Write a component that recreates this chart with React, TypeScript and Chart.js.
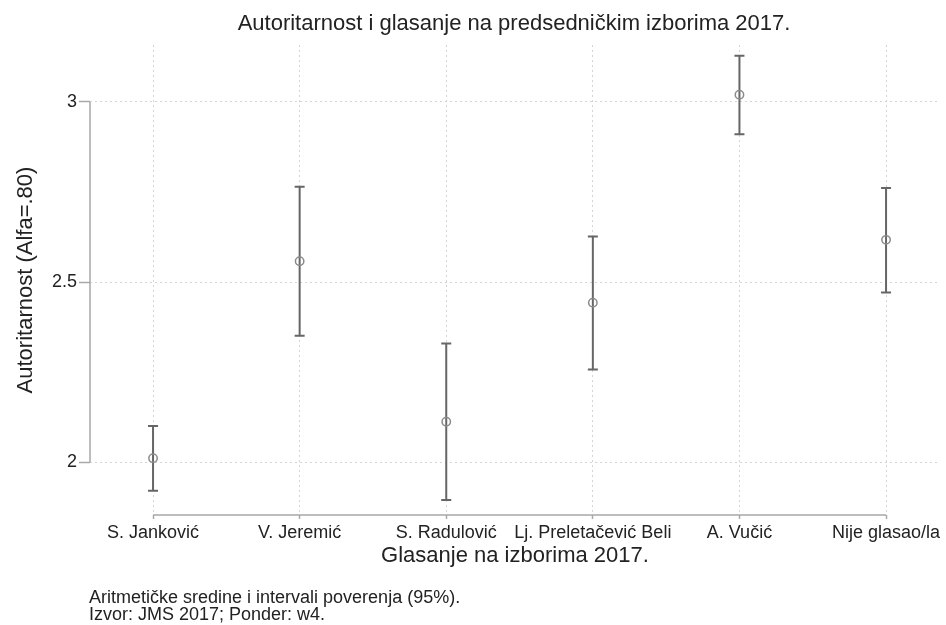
import React, { useEffect, useRef } from "react";
import { Chart, registerables } from "chart.js";

Chart.register(...registerables);

const categories = [
  "S. Janković",
  "V. Jeremić",
  "S. Radulović",
  "Lj. Preletačević Beli",
  "A. Vučić",
  "Nije glasao/la",
];
const means = [2.012, 2.558, 2.113, 2.443, 3.019, 2.617];
const lowerCI = [1.922, 2.351, 1.896, 2.258, 2.91, 2.471];
const upperCI = [2.101, 2.764, 2.33, 2.626, 3.127, 2.761];
const yTicks = [2, 2.5, 3];

const titleText = "Autoritarnost i glasanje na predsedničkim izborima 2017.";
const xTitle = "Glasanje na izborima 2017.";
const yTitle = "Autoritarnost (Alfa=.80)";
const notes = [
  "Aritmetičke sredine i intervali poverenja (95%).",
  "Izvor: JMS 2017; Ponder: w4.",
];

const FONT = "'Liberation Sans', Arial, sans-serif";

const stataPlugin = {
  id: "stataDecor",
  beforeDatasetsDraw(chart: any) {
    const { ctx, chartArea, scales } = chart;
    const xs = scales.x;
    const ys = scales.y;
    ctx.save();
    // axis lines spanning first..last tick
    ctx.strokeStyle = "#a8a8a8";
    ctx.lineWidth = 1.5;
    ctx.beginPath();
    ctx.moveTo(chartArea.left, ys.getPixelForValue(yTicks[0]));
    ctx.lineTo(chartArea.left, ys.getPixelForValue(yTicks[yTicks.length - 1]));
    ctx.moveTo(xs.getPixelForValue(0), chartArea.bottom);
    ctx.lineTo(xs.getPixelForValue(categories.length - 1), chartArea.bottom);
    ctx.stroke();
    // error bars
    ctx.strokeStyle = "#666666";
    ctx.lineWidth = 2;
    const cap = 5;
    for (let i = 0; i < categories.length; i++) {
      const px = xs.getPixelForValue(i);
      const lo = ys.getPixelForValue(lowerCI[i]);
      const hi = ys.getPixelForValue(upperCI[i]);
      ctx.beginPath();
      ctx.moveTo(px, lo);
      ctx.lineTo(px, hi);
      ctx.moveTo(px - cap, lo);
      ctx.lineTo(px + cap, lo);
      ctx.moveTo(px - cap, hi);
      ctx.lineTo(px + cap, hi);
      ctx.stroke();
    }
    ctx.restore();
  },
  afterDraw(chart: any) {
    const { ctx, chartArea } = chart;
    ctx.save();
    ctx.fillStyle = "#222";
    ctx.textAlign = "center";
    ctx.textBaseline = "alphabetic";
    ctx.font = `22px ${FONT}`;
    ctx.fillText(titleText, (chartArea.left + chartArea.right) / 2 - 1, 30);
    ctx.textAlign = "left";
    ctx.font = `18px ${FONT}`;
    ctx.fillText(notes[0], 89, 603);
    ctx.fillText(notes[1], 89, 620);
    ctx.restore();
  },
};

export default function App() {
  const ref = useRef<HTMLCanvasElement | null>(null);
  useEffect(() => {
    if (!ref.current) return;
    const chart = new Chart(ref.current, {
      type: "scatter",
      data: {
        datasets: [
          {
            data: means.map((m, i) => ({ x: i, y: m })),
            pointRadius: 4.2,
            pointBorderWidth: 1.5,
            pointBorderColor: "#8a8a8a",
            pointBackgroundColor: "rgba(255,255,255,0)",
            showLine: false,
          },
        ],
      },
      options: {
        responsive: false,
        animation: false,
        layout: { padding: { left: 0, right: 6, top: 45, bottom: 50 } },
        plugins: {
          legend: { display: false },
          tooltip: { enabled: false },
          title: { display: false },
        },
        scales: {
          x: {
            type: "linear",
            min: -0.43,
            max: 5.368,
            afterBuildTicks: (s: any) => {
              s.ticks = categories.map((_, i) => ({ value: i }));
            },
            afterFit: (s: any) => {
              s.height = 60;
            },
            grid: {
              color: "#d4d4d4",
              lineWidth: 1,
              drawTicks: true,
              tickLength: 4,
              tickColor: "#a8a8a8",
              tickWidth: 1.5,
              tickBorderDash: [],
            } as any,
            border: { display: false, dash: [2, 3] },
            ticks: {
              padding: 3,
              color: "#222",
              font: { family: FONT, size: 18 },
              maxRotation: 0,
              autoSkip: false,
              callback: (v: any) => categories[v] ?? "",
            },
            title: {
              display: true,
              text: xTitle,
              color: "#222",
              font: { family: FONT, size: 22 },
              padding: { top: 0, bottom: 6 },
            },
          },
          y: {
            type: "linear",
            min: 1.8545,
            max: 3.157,
            afterBuildTicks: (s: any) => {
              s.ticks = yTicks.map((v) => ({ value: v }));
            },
            afterFit: (s: any) => {
              s.width = 90;
            },
            grid: {
              color: "#d4d4d4",
              lineWidth: 1,
              drawTicks: true,
              tickLength: 11,
              tickColor: "#a8a8a8",
              tickWidth: 1.5,
              tickBorderDash: [],
            } as any,
            border: { display: false, dash: [2, 3] },
            ticks: {
              padding: 2,
              color: "#222",
              font: { family: FONT, size: 18 },
              callback: (v: any) => String(v),
            },
            title: {
              display: true,
              text: yTitle,
              color: "#222",
              font: { family: FONT, size: 22 },
              padding: { top: 13, bottom: 0 },
            },
          },
        },
      },
      plugins: [stataPlugin],
    } as any);
    return () => chart.destroy();
  }, []);
  return (
    <div style={{ position: "fixed", left: 0, top: 0, width: 946, height: 625, background: "#fff" }}>
      <canvas ref={ref} width={946} height={625} />
    </div>
  );
}
